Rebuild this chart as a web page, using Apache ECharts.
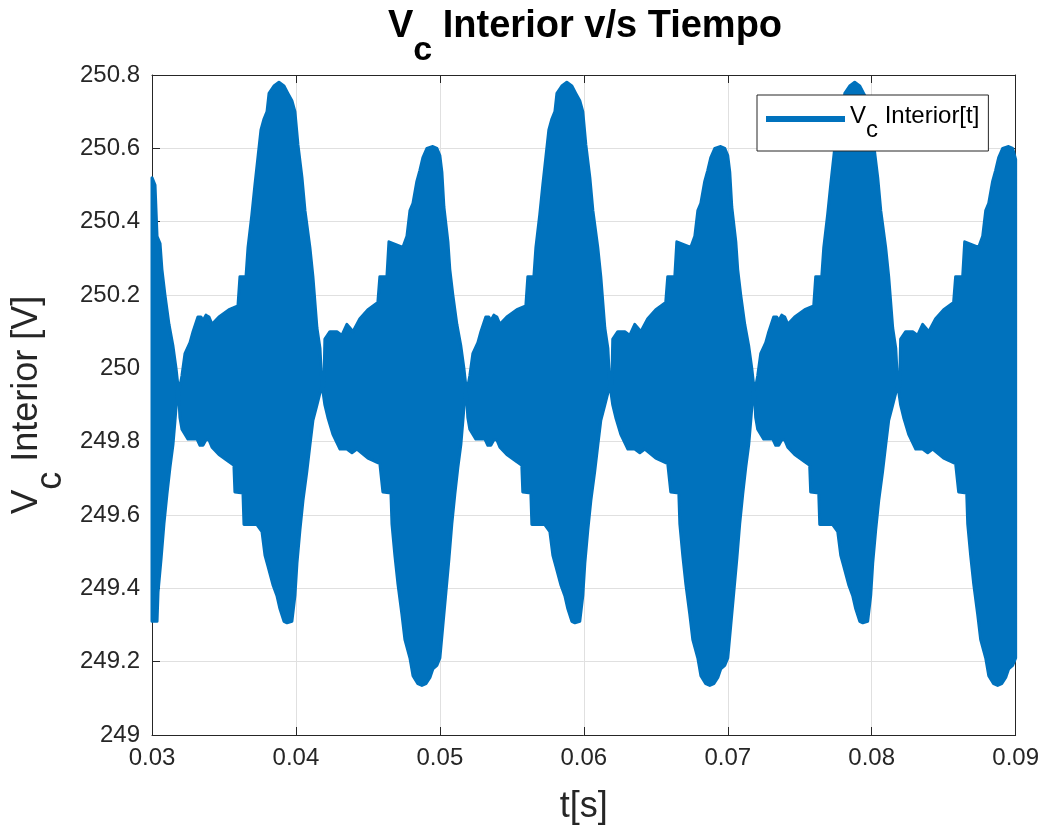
<!DOCTYPE html>
<html><head><meta charset="utf-8">
<script src="https://cdn.jsdelivr.net/npm/echarts@6/dist/echarts.min.js"></script>
<style>html,body{margin:0;padding:0;background:#fff}#c{width:1042px;height:832px}</style>
</head><body><div id="c"></div><script>
// ---- tick values ----
const xTicks = [0.03, 0.04, 0.05, 0.06, 0.07, 0.08, 0.09];
const yTicks = [249, 249.2, 249.4, 249.6, 249.8, 250, 250.2, 250.4, 250.6, 250.8];

// ---- upper envelope of the oscillating signal [t (s), V] ----
const upperP1 = [[0.03000,250.52],[0.03021,250.50],[0.03035,250.36],[0.03056,250.34],[0.03069,250.27],[0.03090,250.20],[0.03118,250.12],[0.03146,250.06],[0.03167,250.00],[0.03181,249.95],[0.03194,249.95],[0.03208,249.98],[0.03229,250.04],[0.03264,250.07],[0.03285,250.10],[0.03319,250.14],[0.03340,250.14],[0.03354,250.13],[0.03375,250.145],[0.03396,250.14],[0.03417,250.12],[0.03465,250.14],[0.03535,250.16],[0.03597,250.17],[0.03611,250.25],[0.03653,250.25],[0.03667,250.33],[0.03694,250.42],[0.03715,250.50],[0.03736,250.575],[0.03757,250.65],[0.03778,250.68],[0.03799,250.70],[0.03813,250.75],[0.03847,250.77],[0.03882,250.78],[0.03917,250.77],[0.03944,250.75],[0.03972,250.73],[0.03993,250.70],[0.04014,250.61],[0.04042,250.52],[0.04063,250.43],[0.04097,250.33],[0.04118,250.25],[0.04132,250.18],[0.04146,250.11],[0.04167,250.055],[0.04181,249.95],[0.04194,249.95],[0.04201,250.08],[0.04236,250.10],[0.04285,250.10],[0.04319,250.09],[0.04354,250.12],[0.04375,250.11],[0.04396,250.10],[0.04444,250.135],[0.04500,250.16],[0.04569,250.18],[0.04583,250.25],[0.04632,250.25],[0.04646,250.345],[0.04743,250.33],[0.04771,250.36],[0.04792,250.43],[0.04813,250.45],[0.04840,250.51],[0.04861,250.54],[0.04882,250.575],[0.04910,250.60],[0.04951,250.605],[0.04979,250.60]];
const upperP2 = [[0.05000,250.58],[0.05014,250.535],[0.05028,250.44],[0.05056,250.345],[0.05069,250.27],[0.05090,250.20],[0.05118,250.12],[0.05146,250.06],[0.05167,250.00],[0.05181,249.95],[0.05194,249.95],[0.05208,249.98],[0.05229,250.04],[0.05264,250.07],[0.05285,250.10],[0.05319,250.14],[0.05340,250.14],[0.05354,250.13],[0.05375,250.145],[0.05396,250.14],[0.05417,250.12],[0.05465,250.14],[0.05535,250.16],[0.05597,250.17],[0.05611,250.25],[0.05653,250.25],[0.05667,250.33],[0.05694,250.42],[0.05715,250.50],[0.05736,250.575],[0.05757,250.65],[0.05778,250.68],[0.05799,250.70],[0.05813,250.75],[0.05847,250.77],[0.05882,250.78],[0.05917,250.77],[0.05944,250.75],[0.05972,250.73],[0.05993,250.70],[0.06014,250.61],[0.06042,250.52],[0.06063,250.43],[0.06097,250.33],[0.06118,250.25],[0.06132,250.18],[0.06146,250.11],[0.06167,250.055],[0.06181,249.95],[0.06194,249.95],[0.06201,250.08],[0.06236,250.10],[0.06285,250.10],[0.06319,250.09],[0.06354,250.12],[0.06375,250.11],[0.06396,250.10],[0.06444,250.135],[0.06500,250.16],[0.06569,250.18],[0.06583,250.25],[0.06632,250.25],[0.06646,250.345],[0.06743,250.33],[0.06771,250.36],[0.06792,250.43],[0.06813,250.45],[0.06840,250.51],[0.06861,250.54],[0.06882,250.575],[0.06910,250.60],[0.06951,250.605],[0.06979,250.60]];
const upperP3 = [[0.07000,250.58],[0.07014,250.535],[0.07028,250.44],[0.07056,250.345],[0.07069,250.27],[0.07090,250.20],[0.07118,250.12],[0.07146,250.06],[0.07167,250.00],[0.07181,249.95],[0.07194,249.95],[0.07208,249.98],[0.07229,250.04],[0.07264,250.07],[0.07285,250.10],[0.07319,250.14],[0.07340,250.14],[0.07354,250.13],[0.07375,250.145],[0.07396,250.14],[0.07417,250.12],[0.07465,250.14],[0.07535,250.16],[0.07597,250.17],[0.07611,250.25],[0.07653,250.25],[0.07667,250.33],[0.07694,250.42],[0.07715,250.50],[0.07736,250.575],[0.07757,250.65],[0.07778,250.68],[0.07799,250.70],[0.07813,250.75],[0.07847,250.77],[0.07882,250.78],[0.07917,250.77],[0.07944,250.75],[0.07972,250.73],[0.07993,250.70],[0.08014,250.61],[0.08042,250.52],[0.08063,250.43],[0.08097,250.33],[0.08118,250.25],[0.08132,250.18],[0.08146,250.11],[0.08167,250.055],[0.08181,249.95],[0.08194,249.95],[0.08201,250.08],[0.08236,250.10],[0.08285,250.10],[0.08319,250.09],[0.08354,250.12],[0.08375,250.11],[0.08396,250.10],[0.08444,250.135],[0.08500,250.16],[0.08569,250.18],[0.08583,250.25],[0.08632,250.25],[0.08646,250.345],[0.08743,250.33],[0.08771,250.36],[0.08792,250.43],[0.08813,250.45],[0.08840,250.51],[0.08861,250.54],[0.08882,250.575],[0.08910,250.60],[0.08951,250.605],[0.08979,250.60],[0.09000,250.57]];

// ---- lower envelope of the oscillating signal [t (s), V] ----
const lowerP1 = [[0.03000,249.31],[0.03035,249.31],[0.03042,249.39],[0.03063,249.48],[0.03083,249.576],[0.03104,249.657],[0.03125,249.73],[0.03146,249.793],[0.03160,249.858],[0.03181,249.96],[0.03194,249.866],[0.03208,249.834],[0.03250,249.807],[0.03313,249.807],[0.03333,249.79],[0.03354,249.79],[0.03375,249.805],[0.03396,249.805],[0.03417,249.785],[0.03465,249.765],[0.03535,249.745],[0.03569,249.736],[0.03576,249.663],[0.03632,249.66],[0.03639,249.574],[0.03729,249.574],[0.03764,249.555],[0.03785,249.49],[0.03806,249.46],[0.03840,249.41],[0.03868,249.38],[0.03889,249.344],[0.03917,249.31],[0.03938,249.306],[0.03972,249.31],[0.03993,249.38],[0.04007,249.468],[0.04028,249.56],[0.04049,249.64],[0.04076,249.72],[0.04097,249.79],[0.04118,249.858],[0.04146,249.90],[0.04181,249.955],[0.04201,249.90],[0.04222,249.866],[0.04257,249.82],[0.04306,249.78],[0.04354,249.78],[0.04389,249.77],[0.04424,249.78],[0.04500,249.755],[0.04583,249.74],[0.04604,249.663],[0.04660,249.66],[0.04667,249.576],[0.04688,249.487],[0.04708,249.414],[0.04736,249.33],[0.04757,249.26],[0.04792,249.21],[0.04813,249.162],[0.04847,249.14],[0.04875,249.135],[0.04903,249.14],[0.04931,249.157],[0.04951,249.18],[0.04979,249.19]];
const lowerP2 = [[0.05000,249.21],[0.05021,249.30],[0.05042,249.39],[0.05063,249.48],[0.05083,249.576],[0.05104,249.657],[0.05125,249.73],[0.05146,249.793],[0.05160,249.858],[0.05181,249.96],[0.05194,249.866],[0.05208,249.834],[0.05250,249.807],[0.05313,249.807],[0.05333,249.79],[0.05354,249.79],[0.05375,249.805],[0.05396,249.805],[0.05417,249.785],[0.05465,249.765],[0.05535,249.745],[0.05569,249.736],[0.05576,249.663],[0.05632,249.66],[0.05639,249.574],[0.05729,249.574],[0.05764,249.555],[0.05785,249.49],[0.05806,249.46],[0.05840,249.41],[0.05868,249.38],[0.05889,249.344],[0.05917,249.31],[0.05938,249.306],[0.05972,249.31],[0.05993,249.38],[0.06007,249.468],[0.06028,249.56],[0.06049,249.64],[0.06076,249.72],[0.06097,249.79],[0.06118,249.858],[0.06146,249.90],[0.06181,249.955],[0.06201,249.90],[0.06222,249.866],[0.06257,249.82],[0.06306,249.78],[0.06354,249.78],[0.06389,249.77],[0.06424,249.78],[0.06500,249.755],[0.06583,249.74],[0.06604,249.663],[0.06660,249.66],[0.06667,249.576],[0.06688,249.487],[0.06708,249.414],[0.06736,249.33],[0.06757,249.26],[0.06792,249.21],[0.06813,249.162],[0.06847,249.14],[0.06875,249.135],[0.06903,249.14],[0.06931,249.157],[0.06951,249.18],[0.06979,249.19]];
const lowerP3 = [[0.07000,249.21],[0.07021,249.30],[0.07042,249.39],[0.07063,249.48],[0.07083,249.576],[0.07104,249.657],[0.07125,249.73],[0.07146,249.793],[0.07160,249.858],[0.07181,249.96],[0.07194,249.866],[0.07208,249.834],[0.07250,249.807],[0.07313,249.807],[0.07333,249.79],[0.07354,249.79],[0.07375,249.805],[0.07396,249.805],[0.07417,249.785],[0.07465,249.765],[0.07535,249.745],[0.07569,249.736],[0.07576,249.663],[0.07632,249.66],[0.07639,249.574],[0.07729,249.574],[0.07764,249.555],[0.07785,249.49],[0.07806,249.46],[0.07840,249.41],[0.07868,249.38],[0.07889,249.344],[0.07917,249.31],[0.07938,249.306],[0.07972,249.31],[0.07993,249.38],[0.08007,249.468],[0.08028,249.56],[0.08049,249.64],[0.08076,249.72],[0.08097,249.79],[0.08118,249.858],[0.08146,249.90],[0.08181,249.955],[0.08201,249.90],[0.08222,249.866],[0.08257,249.82],[0.08306,249.78],[0.08354,249.78],[0.08389,249.77],[0.08424,249.78],[0.08500,249.755],[0.08583,249.74],[0.08604,249.663],[0.08660,249.66],[0.08667,249.576],[0.08688,249.487],[0.08708,249.414],[0.08736,249.33],[0.08757,249.26],[0.08792,249.21],[0.08813,249.162],[0.08847,249.14],[0.08875,249.135],[0.08903,249.14],[0.08931,249.157],[0.08951,249.18],[0.08979,249.19],[0.09000,249.21]];

const seriesName = 'Vc Interior[t]';
const BLUE = '#0072BD';
const INK = '#262626';
const FONT = '"Liberation Sans", Arial, Helvetica, sans-serif';

const upper = upperP1.concat(upperP2, upperP3);
const lower = lowerP1.concat(lowerP2, lowerP3);

const chart = echarts.init(document.getElementById('c'), null, {renderer: 'canvas'});

function renderBand(params, api) {
  const pts = [];
  for (let i = 0; i < upper.length; i++) pts.push(api.coord(upper[i]));
  for (let i = lower.length - 1; i >= 0; i--) pts.push(api.coord(lower[i]));
  return {
    type: 'polygon',
    shape: {points: pts},
    style: {fill: BLUE, stroke: BLUE, lineWidth: 3, lineJoin: 'round'}
  };
}

const xCommon = {type: 'value', min: xTicks[0], max: xTicks[xTicks.length - 1], interval: 0.01};
const yCommon = {type: 'value', min: yTicks[0], max: yTicks[yTicks.length - 1], interval: 0.2};

const option = {
  animation: false,
  backgroundColor: '#ffffff',
  title: {
    text: '{v|V}{c|c}{r| Interior v/s Tiempo}',
    left: 388, top: 8, padding: 0,
    textStyle: {
      fontFamily: FONT, fontWeight: 'bold', color: '#000',
      rich: {
        v: {fontFamily: FONT, fontWeight: 'bold', fontSize: 38, color: '#000', padding: [0, 0, 24, 0]},
        c: {fontFamily: FONT, fontWeight: 'bold', fontSize: 34, color: '#000', padding: [24, 0, 0, 0]},
        r: {fontFamily: FONT, fontWeight: 'bold', fontSize: 38, color: '#000', padding: [0, 0, 24, 0]}
      }
    }
  },
  legend: {
    data: [{name: seriesName, icon: 'rect'}],
    left: 757, top: 95,
    padding: [9, 9, 9, 9],
    itemWidth: 79, itemHeight: 6,
    backgroundColor: '#fff', borderColor: INK, borderWidth: 1, borderRadius: 0,
    formatter: function () { return '{v|V}{c|c}{r| Interior[t]}'; },
    textStyle: {
      fontFamily: FONT, color: '#000', fontSize: 24,
      rich: {
        v: {fontFamily: FONT, fontSize: 24, color: '#000', padding: [0, 0, 6, 0]},
        c: {fontFamily: FONT, fontSize: 24, color: '#000', padding: [22, 0, 0, 0]},
        r: {fontFamily: FONT, fontSize: 24, color: '#000', padding: [0, 0, 6, 0]}
      }
    }
  },
  grid: {left: 152, right: 26, top: 75, bottom: 92, containLabel: false},
  xAxis: [
    Object.assign({}, xCommon, {
      position: 'bottom',
      name: 't[s]', nameLocation: 'middle', nameGap: 52,
      nameTextStyle: {fontFamily: FONT, fontSize: 36, color: INK, lineHeight: 40},
      axisLine: {show: true, onZero: false, lineStyle: {color: INK, width: 1}},
      axisTick: {show: true, inside: true, length: 8, lineStyle: {color: INK, width: 1}},
      axisLabel: {show: true, margin: 11, fontFamily: FONT, fontSize: 24, color: INK},
      splitLine: {show: true, lineStyle: {color: '#e0e0e0', width: 1}}
    }),
    Object.assign({}, xCommon, {
      position: 'top',
      axisLine: {show: true, onZero: false, lineStyle: {color: INK, width: 1}},
      axisTick: {show: true, inside: true, length: 8, lineStyle: {color: INK, width: 1}},
      axisLabel: {show: false},
      splitLine: {show: false}
    })
  ],
  yAxis: [
    Object.assign({}, yCommon, {
      position: 'left',
      name: '{v|V}{c|c}{r| Interior [V]}', nameLocation: 'middle', nameGap: 78, nameRotate: 90,
      nameTextStyle: {
        fontFamily: FONT, fontSize: 36, color: INK,
        rich: {
          v: {fontFamily: FONT, fontSize: 37, color: INK, padding: [0, 0, 24, 0]},
          c: {fontFamily: FONT, fontSize: 36, color: INK, padding: [24, 0, 0, 0]},
          r: {fontFamily: FONT, fontSize: 36, color: INK, padding: [0, 0, 24, 0]}
        }
      },
      axisLine: {show: true, onZero: false, lineStyle: {color: INK, width: 1}},
      axisTick: {show: true, inside: true, length: 8, lineStyle: {color: INK, width: 1}},
      axisLabel: {show: true, margin: 12, fontFamily: FONT, fontSize: 24, color: INK},
      splitLine: {show: true, lineStyle: {color: '#e0e0e0', width: 1}}
    }),
    Object.assign({}, yCommon, {
      position: 'right',
      axisLine: {show: true, onZero: false, lineStyle: {color: INK, width: 1}},
      axisTick: {show: true, inside: true, length: 8, lineStyle: {color: INK, width: 1}},
      axisLabel: {show: false},
      splitLine: {show: false}
    })
  ],
  series: [{
    type: 'custom',
    name: seriesName,
    xAxisIndex: 0, yAxisIndex: 0,
    itemStyle: {color: BLUE},
    z: 3,
    silent: true,
    renderItem: renderBand,
    data: [[xTicks[0], 250]]
  }]
};
chart.setOption(option);
</script></body></html>
